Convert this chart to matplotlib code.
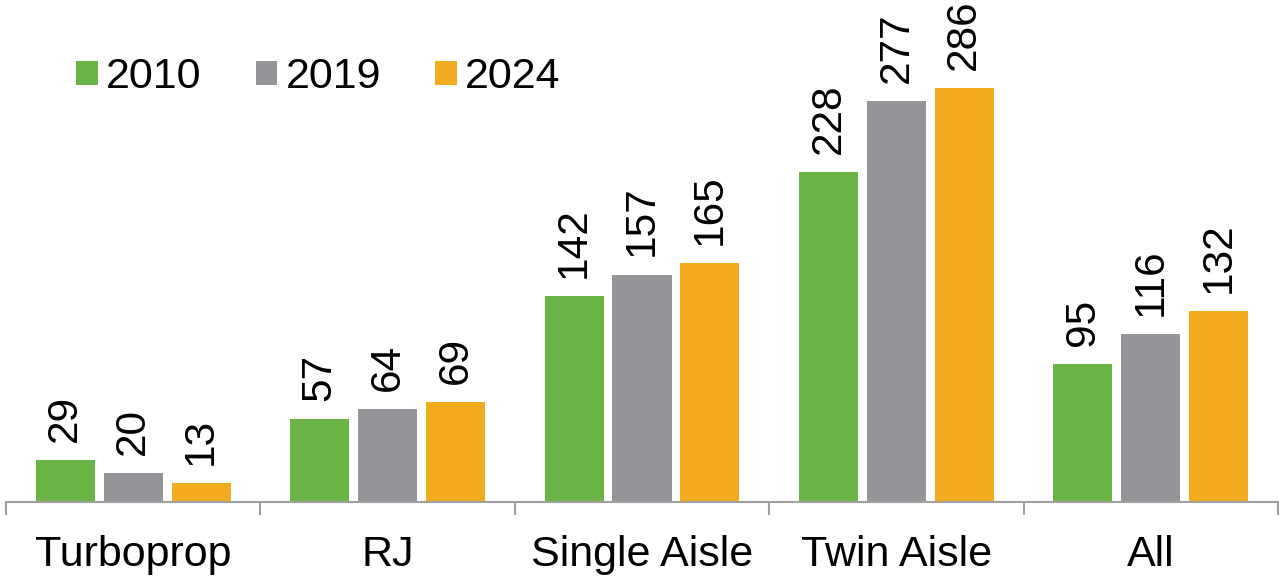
import matplotlib
matplotlib.use("Agg")
import matplotlib.pyplot as plt
from matplotlib.patches import Patch
import numpy as np

plt.rcParams['font.family'] = ['Liberation Sans', 'DejaVu Sans']

categories = ["Turboprop", "RJ", "Single Aisle", "Twin Aisle", "All"]
years = ["2010", "2019", "2024"]
values_2010 = [29, 57, 142, 228, 95]
values_2019 = [20, 64, 157, 277, 116]
values_2024 = [13, 69, 165, 286, 132]
colors = ["#6AB545", "#939598", "#F2AB1E"]

W, H = 1281, 576
fig = plt.figure(figsize=(W / 100, H / 100), dpi=100)
ax = fig.add_axes([6 / W, (H - 501.7) / H, 1272 / W, 501.7 / H])

x = np.arange(len(categories))
bw = 0.232
offs = [-0.267, 0.0, 0.267]
series = [values_2010, values_2019, values_2024]
for s, off, c in zip(series, offs, colors):
    bars = ax.bar(x + off, s, width=bw, color=c, edgecolor='none', zorder=2)
    for b, v in zip(bars, s):
        ax.annotate(str(v), (b.get_x() + b.get_width() / 2, b.get_height()),
                    xytext=(0, 13), textcoords='offset points',
                    rotation=90, ha='center', va='bottom', fontsize=30.5,
                    color='black')

ax.set_xlim(-0.5, len(categories) - 0.5)
ax.set_ylim(0, 346.7)
for sp in ['top', 'right', 'left']:
    ax.spines[sp].set_visible(False)
ax.spines['bottom'].set_color('#A0A0A0')
ax.spines['bottom'].set_linewidth(1.5)
ax.set_yticks([])
ax.set_xticks(x)
ax.set_xticklabels(categories, fontsize=31)
ax.tick_params(axis='x', which='major', length=0, pad=24)
ax.set_xticks(np.arange(len(categories) + 1) - 0.5, minor=True)
ax.tick_params(axis='x', which='minor', length=9, width=1.5, color='#A0A0A0')

handles = [Patch(facecolor=c, edgecolor='none') for c in colors]
leg = ax.legend(handles, years, ncol=3, frameon=False, fontsize=31,
                loc='upper left', bbox_to_anchor=(53 / 1272, (501.7 - 40) / 501.7),
                handlelength=0.5, handleheight=0.5, handletextpad=0.2,
                columnspacing=1.25, borderaxespad=0)

fig.savefig("out.png", dpi=100)
